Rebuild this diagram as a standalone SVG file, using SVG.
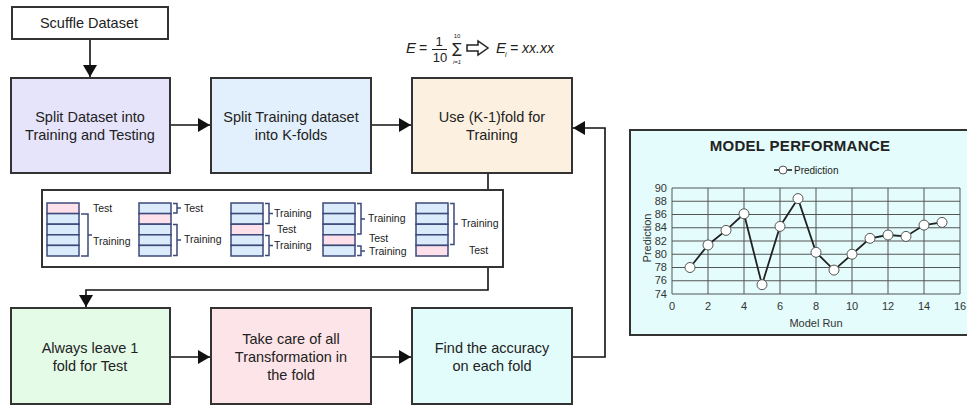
<svg xmlns="http://www.w3.org/2000/svg" width="967" height="406" viewBox="0 0 967 406">
<defs>
<marker id="ah" markerUnits="userSpaceOnUse" markerWidth="14" markerHeight="14" refX="12" refY="7" orient="auto">
<path d="M0,0 L12,7 L0,14 Z" fill="#111"/>
</marker>
<style>
.box{stroke:#333;stroke-width:2}
.t{font-family:"Liberation Sans",Arial,sans-serif;font-size:14.5px;fill:#222;text-anchor:middle}
.s{font-family:"Liberation Sans",Arial,sans-serif;font-size:10.5px;fill:#222}
.c{fill:none;stroke:#111;stroke-width:1.6}
.fb{fill:#dcebfb;stroke:#3b4a7a;stroke-width:1.5}
.fp{fill:#fde0ea;stroke:#3b4a7a;stroke-width:1.5}
.br{fill:none;stroke:#3b4a7a;stroke-width:1.5}
.g{stroke:#555;stroke-width:1}
.ax{font-family:"Liberation Sans",Arial,sans-serif;font-size:11px;fill:#333;text-anchor:middle}
.m{font-family:"Liberation Sans",Arial,sans-serif;fill:#222;font-style:italic}
</style>
</defs>
<rect width="967" height="406" fill="#fff"/>

<g id="connectors">
<line class="c" x1="90" y1="39" x2="90" y2="77" marker-end="url(#ah)"/>
<line class="c" x1="170" y1="125" x2="210" y2="125" marker-end="url(#ah)"/>
<line class="c" x1="371" y1="125" x2="411" y2="125" marker-end="url(#ah)"/>
<polyline class="c" points="488,173 488,290 86,290 86,307" marker-end="url(#ah)"/>
<line class="c" x1="170" y1="357" x2="210" y2="357" marker-end="url(#ah)"/>
<line class="c" x1="371" y1="357" x2="411" y2="357" marker-end="url(#ah)"/>
<polyline class="c" points="572,357 605,357 605,128 573,128" marker-end="url(#ah)"/>
</g>

<g id="scuffle">
<rect class="box" x="12" y="7" width="156" height="32" fill="#fff"/>
<text class="t" x="89" y="28">Scuffle Dataset</text>
</g>
<g id="split-dataset">
<rect class="box" x="11" y="78" width="159" height="95" fill="#e6e4fb"/>
<text class="t" x="90" y="122">Split Dataset into</text>
<text class="t" x="90" y="140">Training and Testing</text>
</g>
<g id="split-training">
<rect class="box" x="211" y="78" width="160" height="95" fill="#e2f0fd"/>
<text class="t" x="291" y="122">Split Training dataset</text>
<text class="t" x="291" y="140">into K-folds</text>
</g>
<g id="use-k1">
<rect class="box" x="412" y="78" width="160" height="95" fill="#fcf1e1"/>
<text class="t" x="492" y="122">Use (K-1)fold for</text>
<text class="t" x="492" y="140">Training</text>
</g>

<g id="formula">
<text class="m" x="406" y="53" font-size="15">E</text>
<text x="419" y="53" font-size="14" font-family="Liberation Sans,Arial,sans-serif" fill="#222">=</text>
<text x="439" y="46" font-size="13" font-family="Liberation Sans,Arial,sans-serif" fill="#222" text-anchor="middle">1</text>
<line x1="432" y1="49.5" x2="447" y2="49.5" stroke="#222" stroke-width="1"/>
<text x="440" y="62" font-size="13" font-family="Liberation Sans,Arial,sans-serif" fill="#222" text-anchor="middle">10</text>
<text x="457" y="53" font-size="14" font-family="DejaVu Sans,sans-serif" fill="#222" text-anchor="middle">∑</text>
<text x="457" y="38" font-size="6" font-family="Liberation Sans,Arial,sans-serif" fill="#222" text-anchor="middle">10</text>
<text x="457" y="64" font-size="6" font-family="Liberation Sans,Arial,sans-serif" fill="#222" text-anchor="middle" font-style="italic">i=1</text>
<path d="M467,45 L478,45 L478,41 L488,48 L478,55 L478,51 L467,51 Z" fill="#fff" stroke="#222" stroke-width="1.5"/>
<text class="m" x="496" y="53" font-size="15">E</text>
<text class="m" x="505" y="57" font-size="7">i</text>
<text class="m" x="510" y="53" font-size="14">= xx.xx</text>
</g>

<g id="folds">
<rect class="box" x="42" y="190" width="461" height="77" fill="#fff"/>
<!-- group 1 -->
<rect class="fp" x="47" y="203" width="32" height="10.6"/>
<rect class="fb" x="47" y="213.6" width="32" height="10.6"/>
<rect class="fb" x="47" y="224.2" width="32" height="10.6"/>
<rect class="fb" x="47" y="234.8" width="32" height="10.6"/>
<rect class="fb" x="47" y="245.4" width="32" height="10.6"/>
<path class="br" d="M81,214 H88 V256 H81 M88,235 H92"/>
<text class="s" x="93" y="212">Test</text>
<text class="s" x="93" y="245">Training</text>
<!-- group 2 -->
<rect class="fb" x="139" y="203" width="32" height="10.6"/>
<rect class="fp" x="139" y="213.6" width="32" height="10.6"/>
<rect class="fb" x="139" y="224.2" width="32" height="10.6"/>
<rect class="fb" x="139" y="234.8" width="32" height="10.6"/>
<rect class="fb" x="139" y="245.4" width="32" height="10.6"/>
<path class="br" d="M173,203.5 H177 V213 H173 M177,208 H181"/>
<text class="s" x="184" y="212">Test</text>
<path class="br" d="M173,224.5 H177 V255.5 H173 M177,240 H181"/>
<text class="s" x="184" y="243">Training</text>
<!-- group 3 -->
<rect class="fb" x="231" y="203" width="32" height="10.6"/>
<rect class="fb" x="231" y="213.6" width="32" height="10.6"/>
<rect class="fp" x="231" y="224.2" width="32" height="10.6"/>
<rect class="fb" x="231" y="234.8" width="32" height="10.6"/>
<rect class="fb" x="231" y="245.4" width="32" height="10.6"/>
<path class="br" d="M265,203.5 H269 V223.5 H265 M269,213.5 H273"/>
<text class="s" x="274" y="217">Training</text>
<text class="s" x="277" y="233">Test</text>
<path class="br" d="M265,235.5 H269 V255.5 H265 M269,245.5 H273"/>
<text class="s" x="274" y="249">Training</text>
<!-- group 4 -->
<rect class="fb" x="323" y="203" width="32" height="10.6"/>
<rect class="fb" x="323" y="213.6" width="32" height="10.6"/>
<rect class="fb" x="323" y="224.2" width="32" height="10.6"/>
<rect class="fp" x="323" y="234.8" width="32" height="10.6"/>
<rect class="fb" x="323" y="245.4" width="32" height="10.6"/>
<path class="br" d="M357,203.5 H361 V234 H357 M361,219 H365"/>
<text class="s" x="368" y="222">Training</text>
<text class="s" x="369" y="242">Test</text>
<path class="br" d="M357,246 H361 V255.5 H357 M361,251 H365"/>
<text class="s" x="369" y="255">Training</text>
<!-- group 5 -->
<rect class="fb" x="416" y="203" width="32" height="10.6"/>
<rect class="fb" x="416" y="213.6" width="32" height="10.6"/>
<rect class="fb" x="416" y="224.2" width="32" height="10.6"/>
<rect class="fb" x="416" y="234.8" width="32" height="10.6"/>
<rect class="fp" x="416" y="245.4" width="32" height="10.6"/>
<path class="br" d="M450,203.5 H454 V244.5 H450 M454,224 H458"/>
<text class="s" x="461" y="227">Training</text>
<text class="s" x="469" y="254">Test</text>
</g>

<g id="always-leave">
<rect class="box" x="11" y="308" width="159" height="96" fill="#e4fbe8"/>
<text class="t" x="90" y="353">Always leave 1</text>
<text class="t" x="90" y="371">fold for Test</text>
</g>
<g id="take-care">
<rect class="box" x="211" y="308" width="160" height="96" fill="#fde4e8"/>
<text class="t" x="291" y="344">Take care of all</text>
<text class="t" x="291" y="362">Transformation in</text>
<text class="t" x="291" y="380">the fold</text>
</g>
<g id="find-accuracy">
<rect class="box" x="412" y="308" width="160" height="96" fill="#e2fcfb"/>
<text class="t" x="492" y="353">Find the accuracy</text>
<text class="t" x="492" y="371">on each fold</text>
</g>

<g id="chart">
<rect x="630" y="130" width="345" height="205" fill="#e4fcfb" stroke="#333" stroke-width="2"/>
<text x="800" y="151" font-family="Liberation Sans,Arial,sans-serif" font-size="15" font-weight="bold" fill="#222" text-anchor="middle" letter-spacing="0.3">MODEL  PERFORMANCE</text>
<line x1="774" y1="170" x2="792" y2="170" stroke="#222" stroke-width="1.6"/>
<circle cx="783" cy="170" r="4" fill="#fff" stroke="#555"/>
<text x="794" y="174" font-family="Liberation Sans,Arial,sans-serif" font-size="10" fill="#222">Prediction</text>
<g class="g">
<line x1="672" y1="188" x2="960" y2="188"/>
<line x1="672" y1="201.25" x2="960" y2="201.25"/>
<line x1="672" y1="214.5" x2="960" y2="214.5"/>
<line x1="672" y1="227.75" x2="960" y2="227.75"/>
<line x1="672" y1="241" x2="960" y2="241"/>
<line x1="672" y1="254.25" x2="960" y2="254.25"/>
<line x1="672" y1="267.5" x2="960" y2="267.5"/>
<line x1="672" y1="280.75" x2="960" y2="280.75"/>
<line x1="672" y1="294" x2="960" y2="294"/>
<line x1="672" y1="188" x2="672" y2="294"/>
<line x1="708" y1="188" x2="708" y2="294"/>
<line x1="744" y1="188" x2="744" y2="294"/>
<line x1="780" y1="188" x2="780" y2="294"/>
<line x1="816" y1="188" x2="816" y2="294"/>
<line x1="852" y1="188" x2="852" y2="294"/>
<line x1="888" y1="188" x2="888" y2="294"/>
<line x1="924" y1="188" x2="924" y2="294"/>
<line x1="960" y1="188" x2="960" y2="294"/>
</g>
<g font-family="Liberation Sans,Arial,sans-serif" font-size="11" fill="#333" text-anchor="end">
<text x="667" y="192">90</text>
<text x="667" y="205">88</text>
<text x="667" y="218">86</text>
<text x="667" y="231">84</text>
<text x="667" y="245">82</text>
<text x="667" y="258">80</text>
<text x="667" y="271">78</text>
<text x="667" y="284">76</text>
<text x="667" y="298">74</text>
</g>
<text class="ax" x="672" y="310">0</text>
<text class="ax" x="708" y="310">2</text>
<text class="ax" x="744" y="310">4</text>
<text class="ax" x="780" y="310">6</text>
<text class="ax" x="816" y="310">8</text>
<text class="ax" x="852" y="310">10</text>
<text class="ax" x="888" y="310">12</text>
<text class="ax" x="924" y="310">14</text>
<text class="ax" x="960" y="310">16</text>
<text class="ax" x="816" y="327">Model Run</text>
<text class="ax" transform="translate(651,238) rotate(-90)">Prediction</text>
<polyline fill="none" stroke="#222" stroke-width="1.8" points="690,267.5 708,245 726,230.4 744,213.8 762,284.7 780,226.4 798,198.6 816,252.3 834,270.1 852,254.25 870,238.35 888,235 906,236.4 924,225.1 942,222.4"/>
<g fill="#fff" stroke="#555" stroke-width="1">
<circle cx="690" cy="267.5" r="5"/>
<circle cx="708" cy="245" r="5"/>
<circle cx="726" cy="230.4" r="5"/>
<circle cx="744" cy="213.8" r="5"/>
<circle cx="762" cy="284.7" r="5"/>
<circle cx="780" cy="226.4" r="5"/>
<circle cx="798" cy="198.6" r="5"/>
<circle cx="816" cy="252.3" r="5"/>
<circle cx="834" cy="270.1" r="5"/>
<circle cx="852" cy="254.25" r="5"/>
<circle cx="870" cy="238.35" r="5"/>
<circle cx="888" cy="235" r="5"/>
<circle cx="906" cy="236.4" r="5"/>
<circle cx="924" cy="225.1" r="5"/>
<circle cx="942" cy="222.4" r="5"/>
</g>
</g>
</svg>
